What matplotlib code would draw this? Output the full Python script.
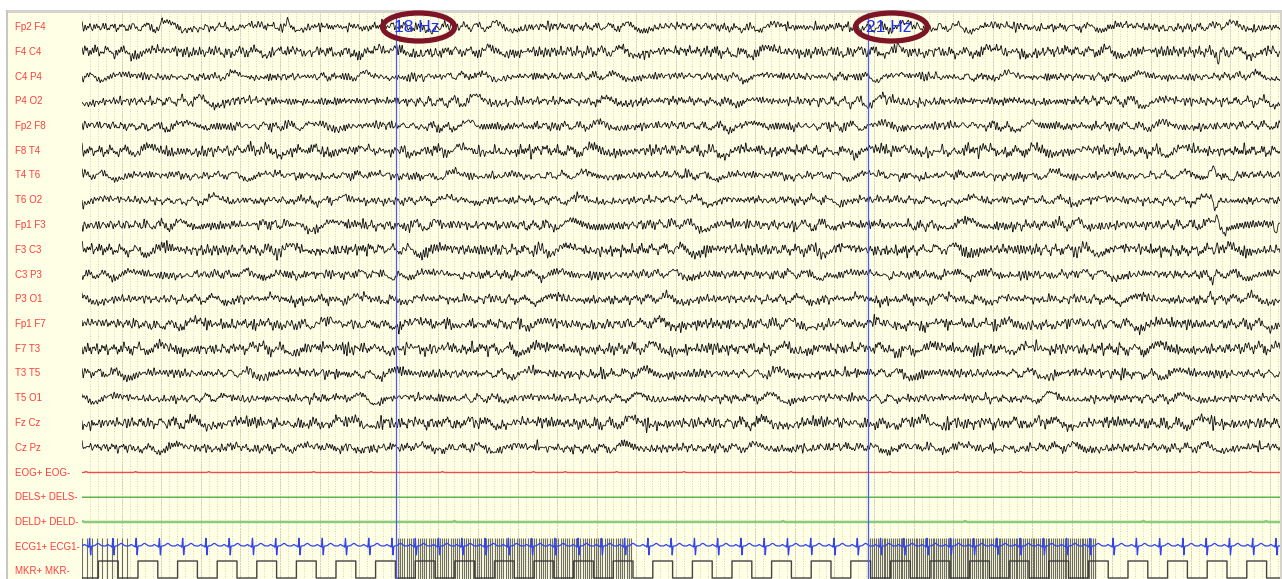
import numpy as np
import matplotlib
matplotlib.use("Agg")
import matplotlib.pyplot as plt
from matplotlib.patches import Rectangle, Ellipse
from matplotlib import transforms

# ---------------- data -----------------
channels = ["Fp2 F4", "F4 C4", "C4 P4", "P4 O2", "Fp2 F8", "F8 T4", "T4 T6", "T6 O2",
            "Fp1 F3", "F3 C3", "C3 P3", "P3 O1", "Fp1 F7", "F7 T3", "T3 T5", "T5 O1",
            "Fz Cz", "Cz Pz", "EOG+ EOG-", "DELS+ DELS-", "DELD+ DELD-", "ECG1+ ECG1-", "MKR+ MKR-"]
n_eeg = 18

# background amplitude (px) of each EEG derivation: slower part, fast part
slow_amp = [2.1, 2.3, 1.8, 2.0, 2.0, 2.3, 1.9, 1.9, 2.2, 2.3, 2.0, 2.0, 2.2, 2.3, 2.0, 1.9, 2.3, 2.0]
fast_amp = [1.4, 1.9, 1.3, 1.5, 1.5, 1.9, 1.3, 1.3, 1.7, 2.0, 1.5, 1.5, 1.8, 2.0, 1.6, 1.3, 2.0, 1.5]

# transients read from the page: (channel, x-position s, amplitude px (+ up), width s)
ev_ch  = [0, 0, 0, 0, 1, 1, 1, 1, 3, 3, 6, 6, 7, 8, 8, 8, 9, 9, 10, 11, 12, 12, 17, 17, 1, 13, 16, 5]
ev_t   = [2.02, 2.55, 5.20, 28.70, 1.35, 5.10, 20.60, 28.70, 20.33, 12.70, 28.55, 29.03, 28.62,
          28.66, 28.85, 30.15, 28.66, 28.86, 28.55, 28.48, 6.78, 18.75, 1.20, 1.33, 30.20, 6.9, 10.6, 20.5]
ev_amp = [5.0, -5.0, 6.0, 6.0, 4.0, -6.0, 5.0, -12.0, -6.0, -4.0, 10.0, -6.0, -12.0,
          10.0, -6.0, -8.0, 8.0, -6.0, -7.0, 5.0, 5.0, -4.0, 5.0, -6.0, -7.0, 4.0, 5.0, 4.0]
ev_w   = [0.06, 0.05, 0.07, 0.07, 0.05, 0.06, 0.06, 0.06, 0.05, 0.05, 0.14, 0.10, 0.07,
          0.07, 0.06, 0.07, 0.05, 0.06, 0.07, 0.06, 0.08, 0.06, 0.04, 0.04, 0.06, 0.06, 0.05, 0.06]

px_per_s = 39.6           # page scale
page_s = 1198 / px_per_s  # 30.25 s on screen

# photic stimulation trains: start (s), stop (s), rate (Hz)
train_start = [0.00, 7.92, 19.86]
train_stop  = [1.21, 13.91, 25.58]
train_rate  = [7.9, 18.0, 21.0]
train_label = [None, "18 Hz", "21 Hz"]

marker_phase = 1.414   # first rising edge of marker square wave (s)
marker_period = 1.0
marker_high = 0.5

ecg_first = 0.193      # first R peak (s)
ecg_rr = 0.5874        # R-R interval (s)

# ---------------- figure -----------------
W, H, DPI = 1282, 579, 100
fig = plt.figure(figsize=(W / DPI, H / DPI), dpi=DPI)
fig.patch.set_facecolor("white")

cream = "#FFFFE6"
for rect, col in [((8 / W, 0, (1280 - 8) / W, (H - 13) / H), cream),
                  ((6 / W, (H - 13) / H, 1 - 6 / W, 3 / H), "#D6D3CC"),
                  ((6 / W, 0, 2 / W, (H - 10) / H), "#C8C6C0"),
                  ((1280 / W, 0, 2 / W, (H - 10) / H), "#D6D3CC")]:
    fig.patches.append(Rectangle(rect[:2], rect[2], rect[3], transform=fig.transFigure,
                                 facecolor=col, edgecolor="none", zorder=-5))

ax = fig.add_axes([82 / W, 0, 1198 / W, (H - 13) / H])
ax.set_facecolor("none")
ax.set_zorder(2)
row_px = 24.75
ax.set_xlim(0, page_s)
ybot, ytop = (579 - 27) / row_px, (13 - 27) / row_px
ax.set_ylim(ybot, ytop)
ax.axis("off")
u = 1 / row_px  # one pixel in row units

# grid
grid_t = np.arange(0.2, page_s, 0.2)
ax.vlines(grid_t, ybot, ytop, colors="#C6C6B2", linewidth=0.6,
          linestyles=(0, (1, 2)), zorder=1)
sec_t = np.arange(1.0, page_s, 1.0)
ax.vlines(sec_t, ybot, ytop, colors="#C8C8B4", linewidth=0.6,
          linestyles=(0, (2, 1.5)), zorder=1)

fs = 256
t = np.arange(0, page_s, 1 / fs)

# EEG background texture
freqs = np.linspace(0.35, 30.0, 200)
k = np.arange(len(freqs))
for c in range(n_eeg):
    ph = 2 * np.pi * np.mod((c + 1) * 0.6180339887 * (k + 1) + 0.7548776662 * k * k, 1.0)
    fshift = freqs + 0.07 * np.mod((c + 3) * 0.41421356 * (k + 1), 1.0)
    slow_w = 1.0 / (fshift + 1.5) * (fshift < 9)
    fast_w = np.exp(-0.5 * ((fshift - 13) / 4.0) ** 2)
    slow = (slow_w[:, None] * np.sin(2 * np.pi * fshift[:, None] * t[None, :] + ph[:, None])).sum(0)
    fast = (fast_w[:, None] * np.sin(2 * np.pi * fshift[:, None] * t[None, :] + ph[:, None] * 1.7)).sum(0)
    slow = slow / slow.std() * slow_amp[c]
    fast = fast / fast.std() * fast_amp[c]
    sig = slow + fast
    for ch, et, ea, ew in zip(ev_ch, ev_t, ev_amp, ev_w):
        if ch == c:
            sig = sig + ea * np.exp(-0.5 * ((t - et) / (ew / 2)) ** 2)
    ax.plot(t, c - sig * u, color="#151515", linewidth=0.6, zorder=3)

# EOG, DELS, DELD
eog = np.zeros_like(t)
eog_blips = [0.1, 1.35, 3.2, 5.85, 7.3, 9.1, 11.4, 12.2, 13.5, 15.2, 17.9, 20.4, 22.1, 23.7, 25.1, 26.6, 28.2, 29.5]
for b in eog_blips:
    eog += 0.9 * np.exp(-0.5 * ((t - b) / 0.02) ** 2)
ax.plot(t, 18 - eog * u, color="#F04A4A", linewidth=1.0, zorder=3)
ax.plot(t, np.full_like(t, 19.0), color="#62B552", linewidth=1.1, zorder=3)
deld = np.zeros_like(t)
deld_blips = [0.0, 9.4, 17.7, 22.3, 26.8, 29.9]
for b in deld_blips:
    deld += 1.0 * np.exp(-0.5 * ((t - b) / 0.02) ** 2)
ax.plot(t, 20 - deld * u, color="#8CCB7C", linewidth=1.8, zorder=3)

# ECG
ecg = np.zeros_like(t)
r_times = np.arange(ecg_first, page_s, ecg_rr)
for r in r_times:
    ecg += 1.5 * np.exp(-0.5 * ((t - (r - 0.13)) / 0.025) ** 2)
    ecg += -1.2 * np.exp(-0.5 * ((t - (r - 0.025)) / 0.008) ** 2)
    ecg += 8.0 * np.exp(-0.5 * ((t - r) / 0.008) ** 2)
    ecg += -9.0 * np.exp(-0.5 * ((t - (r + 0.025)) / 0.009) ** 2)
    ecg += 2.6 * np.exp(-0.5 * ((t - (r + 0.21)) / 0.045) ** 2)
ax.plot(t, (546 - 27) / row_px - ecg * u, color="#3344EE", linewidth=0.9, zorder=4)

# marker channel
mkr_row = 22
low_y = mkr_row + 6.5 * u
high_y = mkr_row - 10.5 * u
sq = np.where(np.mod(t - marker_phase, marker_period) < marker_high, high_y, low_y)
ax.plot(t, sq, color="#444444", linewidth=1.0, zorder=3, drawstyle="steps-post")
for s0, s1, rate in zip(train_start, train_stop, train_rate):
    flashes = np.arange(s0, s1, 1.0 / rate)
    ax.vlines(flashes, low_y + 1 * u, mkr_row - 33.5 * u, colors="#34342A", linewidth=0.8,
              alpha=0.7, zorder=3)

# stimulation onset lines and labels
for s0, lab in zip(train_start, train_label):
    if lab is None:
        continue
    ax.axvline(s0, color="#4A5CFF", linewidth=0.9, zorder=5)
    ax.text(s0 - 0.05, 0.0, lab, color="#1F2FF0", fontsize=12.5, family="Liberation Sans",
            ha="left", va="center", zorder=6)
    ell = Ellipse((s0 + 23 / px_per_s, 0.0), 72 / px_per_s, 28 / row_px, fill=False,
                  edgecolor="#7E1526", linewidth=3.8, zorder=7, clip_on=False)
    ax.add_patch(ell)

# channel labels
trans = transforms.blended_transform_factory(fig.transFigure, ax.transData)
for i, name in enumerate(channels):
    ax.text(15 / W, i, name, transform=trans, color="#FF3B3B", fontsize=7,
            family="Liberation Sans", ha="left", va="center", clip_on=False)

fig.savefig("out.png", dpi=DPI, facecolor=fig.get_facecolor())
